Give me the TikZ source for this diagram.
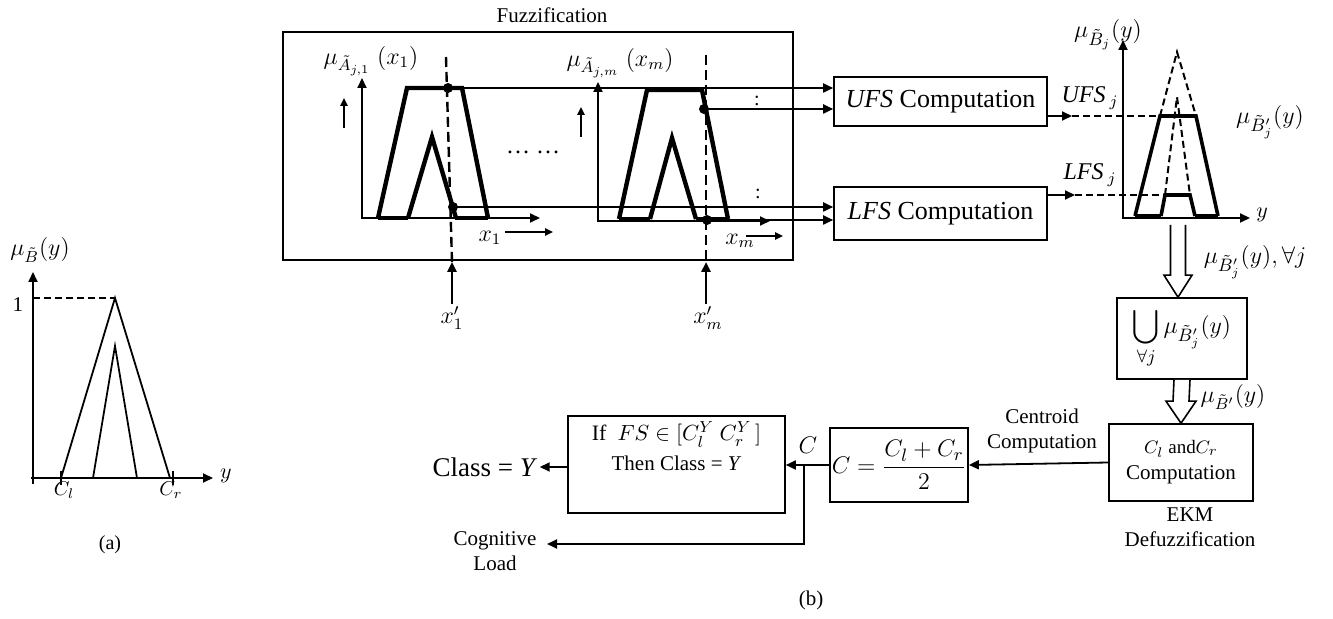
\documentclass[tikz,border=0pt]{standalone}
\usepackage{amsmath}
\usepackage{fontspec}
\setmainfont{Liberation Serif}
\usetikzlibrary{arrows.meta,calc}
\newcommand\hollowarr[4]{% start, end, half shaft, half head
  \draw[line width=0.8pt,fill=white]
    ($(#1)+(-#3,0)$) -- ($(#2)+(-#3,-22)$) -- ($(#2)+(-#4,-22)$) -- (#2)
    -- ($(#2)+(#4,-22)$) -- ($(#2)+(#3,-22)$) -- ($(#1)+(#3,0)$);}
\begin{document}
\begin{tikzpicture}[x=0.5pt,y=-0.5pt,
  arr/.style={-{Triangle[length=5pt,width=4.5pt]}},
  sarr/.style={-{Triangle[length=4pt,width=3.6pt]}},
  ln/.style={line width=0.9pt},
  axis/.style={line width=1pt},
  thk/.style={line width=2.2pt,line join=miter},
  thkr/.style={line width=1.8pt,line join=miter},
  dshv/.style={line width=1.2pt,dash pattern=on 5pt off 2.5pt},
  dshh/.style={line width=0.8pt,dash pattern=on 3.5pt off 2pt},
  box/.style={draw,line width=0.8pt,inner sep=1pt,align=center},
  dot/.style={circle,fill,inner sep=0pt,minimum size=5pt},
  lbl/.style={inner sep=1pt},
  fa/.style={lbl,font=\fontsize{10}{12}\selectfont},
  fb/.style={lbl,font=\fontsize{10.5}{12.5}\selectfont},
  fc/.style={lbl,font=\fontsize{12}{14}\selectfont},
  fd/.style={lbl,font=\fontsize{13}{15}\selectfont},
]
\useasboundingbox (0,0) rectangle (1333,619);

% ---------------- (a) ----------------
\draw[axis,arr] (33,484) -- (33,272);
\draw[axis,arr] (31,478) -- (213,478);
\draw[ln] (61,478) -- (115,298) -- (170,478);
\draw[ln] (93,478) -- (115,346) -- (137,478);
\draw[dshh] (33,298) -- (115,298);
\draw[ln] (61,471) -- (61,485);
\draw[ln] (173,471) -- (173,485);
\node[fb] (one) at (18,305) {1};
\node[fc] (muB) at (40,250) {$\mu_{\tilde{B}}(y)$};
\node[fa] (cl) at (64,490) {$C_l$};
\node[fa] (cr) at (171,490) {$C_r$};
\node[fb] (ya) at (226,476) {$y$};
\node[fa] (la) at (110,545) {(a)};

% ---------------- Fuzzification ----------------
\node[box,minimum width=255pt,minimum height=114pt] (fuzz) at (538,146) {};
\node[fb] (fuzzlbl) at (552,15) {Fuzzification};

% plot 1
\draw[axis,arr] (362,218) -- (540,218);
\draw[axis,arr] (362,219) -- (362,78);
\draw[thk] (378,218) -- (407,88) -- (462,88) -- (488,218);
\draw[thk] (378,218) -- (408,218);
\draw[thk] (455,218) -- (488,218);
\draw[thk] (408,218) -- (432,137) -- (456,218);
\draw[dshv] (446,57) -- (452,262);
\node[dot] (d1u) at (448,88) {};
\node[dot] (d1l) at (453,207) {};
\draw[axis,sarr] (344,128) -- (344,98);
\node[fc] (mu1) at (371,61) {$\mu_{\tilde{A}_{j,1}}\;(x_1)$};
\node[fc] (dots) at (533,152) {\ldots\ \ldots};
\node[fc] (x1) at (490,238) {$x_1$};
\draw[axis,sarr] (505,232) -- (553,232);
\node[fc] (x1p) at (452,318) {$x'_1$};
\draw[line width=1.2pt,arr] (x1p.north) -- (452,262);

% plot 2
\draw[axis,arr] (598,221) -- (770,221);
\draw[axis,arr] (598,222) -- (598,82);
\draw[thk] (619,219) -- (647,90) -- (702,90) -- (728,219);
\draw[thk] (619,219) -- (650,219);
\draw[thk] (696,219) -- (728,219);
\draw[thk] (650,219) -- (672,138) -- (696,219);
\draw[dshv] (706,55) -- (706,262);
\node[dot] (d2u) at (704,109) {};
\node[dot] (d2l) at (707,220) {};
\draw[axis,sarr] (581,137) -- (581,107);
\node[fc] (mu2) at (620,63) {$\mu_{\tilde{A}_{j,m}}\;(x_m)$};
\node[fc] (xm) at (740,241) {$x_m$};
\draw[axis,sarr] (746,236) -- (783,236);
\node[fc] (xmp) at (708,318) {$x'_m$};
\draw[line width=1.2pt,arr] (xmp.north -| 706,0) -- (706,262);
\node[fa] (col1) at (757,101) {:};
\node[fa] (col2) at (758,194) {:};

% ---------------- UFS / LFS ----------------
\node[box,fd,minimum width=106.5pt,minimum height=24.5pt] (ufs) at (940.5,101.5) {\textit{UFS} Computation};
\node[box,fd,minimum width=106.5pt,minimum height=26.5pt] (lfs) at (940.5,213.5) {\textit{LFS} Computation};
\draw[ln,arr] (d1u.center) -- (d1u.center -| ufs.west);
\draw[ln,arr] (d2u.center) -- (d2u.center -| ufs.west);
\draw[ln,arr] (d1l.center) -- (d1l.center -| lfs.west);
\draw[ln,arr] (d2l.center) -- (d2l.center -| lfs.west);

% ---------------- right plot ----------------
\coordinate (tBL) at (1135,216);
\coordinate (tUL) at (1160,116);
\coordinate (tUR) at (1196,116);
\coordinate (tBR) at (1218,216);
\coordinate (tA) at (1177,52);
\coordinate (iBL) at (1161,216);
\coordinate (iUL) at (1165,195);
\coordinate (iUR) at (1190,195);
\coordinate (iBR) at (1195,216);
\coordinate (iA) at (1177,97);
\coordinate (uo) at (1072,116);
\coordinate (lo) at (1075,195);
\draw[axis,arr] (1122,218) -- (1250,218);
\draw[axis,arr] (1123,219) -- (1123,40);
\draw[ln,arr] (ufs.east |- uo) -- (uo);
\draw[ln,arr] (lfs.east |- lo) -- (lo);
\draw[dshh] (uo) -- (tUL);
\draw[dshh] (lo) -- (iUL);
\draw[dshh,line width=1pt] (tUL) -- (tA) -- (tUR);
\draw[dshh,line width=1pt] (iUL) -- (iA) -- (iUR);
\draw[thkr] (tBL) -- (tUL) -- (tUR) -- (tBR);
\draw[thkr] (tBL) -- (iBL);
\draw[thkr] (iBR) -- (tBR);
\draw[thkr] (iBL) -- (iUL) -- (iUR) -- (iBR);
\node[fd] (muBj) at (1108,35) {$\mu_{\tilde{B}_j}(y)$};
\node[fd] (muBpj) at (1270,122) {$\mu_{\tilde{B}'_j}(y)$};
\node[fc] (ufsj) at (1090,98) {\textit{UFS}\,$_j$};
\node[fc] (lfsj) at (1090,175) {\textit{LFS}\,$_j$};
\node[fb] (yr) at (1262,215) {$y$};

% ---------------- union / EKM ----------------
\node[box,fd,minimum width=65pt,minimum height=40.5pt] (union) at (1182,338.5) {$\displaystyle\bigcup_{\forall j}\mu_{\tilde{B}'_j}(y)$};
\coordinate (ha1) at (1178,225);
\hollowarr{ha1}{ha1 |- union.north}{7.5}{14}
\node[fd] (mall) at (1255,262) {$\mu_{\tilde{B}'_j}(y),\forall j$};
\node[box,minimum width=72pt,minimum height=38.5pt] (ekm) at (1181,462.5) {{\fontsize{9.5}{11}\selectfont $C_l$ and$C_r$}\\[1pt]{\fontsize{10.5}{12}\selectfont Computation}};
\hollowarr{union.south}{ekm.north}{8}{15}
\node[fc] (muBp) at (1233,397) {$\mu_{\tilde{B}'}(y)$};
\node[fb,align=center] (ekml) at (1190,527) {EKM\\Defuzzification};

% ---------------- bottom chain ----------------
\node[fb,align=center] (cent) at (1042,431) {Centroid\\Computation};
\node[box,fd,minimum width=68pt,minimum height=37pt] (cbox) at (899,465) {$C=\dfrac{C_l+C_r}{2}$};
\draw[ln,arr] (ekm.west) -- (cbox.east);
\node[box,minimum width=108.5pt,minimum height=48.5pt] (ifbox) at (676.5,464.5)
  {{\fontsize{11}{13}\selectfont If\ \ $FS\in[C_l^Y\ C_r^Y\,]$}\\[3pt]{\fontsize{10.5}{12.5}\selectfont Then Class = \textit{Y}}\\[6pt]};
\draw[ln,arr] (cbox.west) -- (ifbox.east |- cbox.west);
\coordinate (jc) at (804,465);
\coordinate (jd) at (804,544);
\coordinate (cogtip) at (547,544);
\node[fd] (Clbl) at (808,445) {$C$};
\node[fb,align=center] (cog) at (495,551) {Cognitive\\Load};
\draw[ln,arr] (jc) -- (jd) -- (cogtip);
\node[lbl,font=\fontsize{13.5}{15}\selectfont] (cls) at (485,467) {Class = \textit{Y}};
\draw[ln,arr] (ifbox.west |- cls) -- (cls.east);
\node[fb] (lb) at (811,600) {(b)};
\end{tikzpicture}
\end{document}
